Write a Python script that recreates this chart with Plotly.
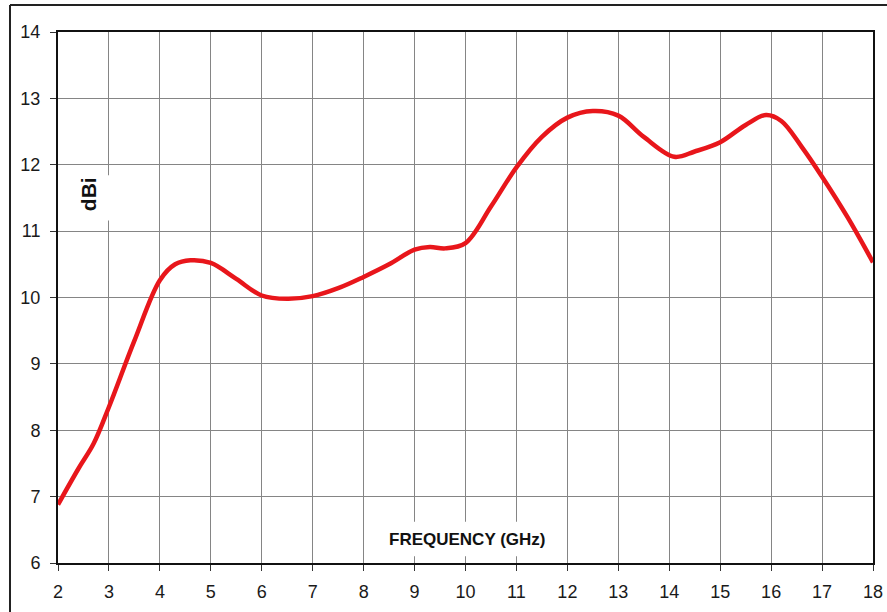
import plotly.graph_objects as go

# Frequency (GHz) and gain (dBi)
freq_ghz = [2.0, 2.4, 2.7, 3.0, 3.5, 4.0, 4.3, 4.6, 5.0, 5.5, 6.0, 6.5, 7.0, 7.5, 8.0, 8.5, 9.0, 9.3, 9.6, 10.0, 10.5, 11.0, 11.5, 12.0, 12.5, 13.0, 13.5, 14.1, 14.5, 15.0, 15.5, 15.9, 16.2, 16.6, 17.0, 17.5, 18.0]
gain_dbi = [6.88, 7.42, 7.8, 8.35, 9.35, 10.26, 10.5, 10.56, 10.52, 10.28, 10.03, 9.98, 10.02, 10.14, 10.31, 10.5, 10.72, 10.76, 10.74, 10.82, 11.37, 11.96, 12.42, 12.71, 12.81, 12.74, 12.42, 12.12, 12.2, 12.34, 12.6, 12.75, 12.66, 12.27, 11.82, 11.21, 10.53]

x_ticks = list(range(2, 19))
y_ticks = list(range(6, 15))

fig = go.Figure()
fig.add_trace(go.Scatter(
    x=freq_ghz, y=gain_dbi, mode="lines",
    line=dict(color="#e8161b", width=4.5, shape="spline", smoothing=1.0),
    hoverinfo="skip", showlegend=False,
))

axis_common = dict(
    showgrid=True, gridcolor="#858585", gridwidth=1,
    showline=True, linecolor="#111111", linewidth=2, mirror=True,
    ticks="outside", ticklen=6, tickcolor="#333333", tickwidth=1,
    tickfont=dict(family="Arial, Liberation Sans, sans-serif", size=18, color="#1a1a1a"),
    zeroline=False, fixedrange=True, automargin=False,
)

fig.update_xaxes(range=[2, 18], tickvals=x_ticks, ticktext=[str(v) for v in x_ticks],
                 ticklabelstandoff=5, **axis_common)
fig.update_yaxes(range=[6, 14], tickvals=y_ticks, ticktext=[str(v) for v in y_ticks],
                 ticklabelstandoff=6, **axis_common)

# white boxes hiding grid lines behind the axis titles
fig.add_shape(type="rect", xref="x", yref="y", x0=2.25, x1=3.12, y0=11.16, y1=11.84,
              fillcolor="white", line=dict(width=0), layer="between")
fig.add_shape(type="rect", xref="x", yref="y", x0=8.3, x1=11.75, y0=6.1, y1=6.62,
              fillcolor="white", line=dict(width=0), layer="between")

fig.add_annotation(x=2.6, y=11.55, xref="x", yref="y", text="<b>dBi</b>", textangle=-90,
                   showarrow=False, font=dict(family="Arial, Liberation Sans, sans-serif", size=21, color="#111111"))
fig.add_annotation(x=10.03, y=6.35, xref="x", yref="y", text="<b>FREQUENCY (GHz)</b>",
                   showarrow=False, font=dict(family="Arial, Liberation Sans, sans-serif", size=17, color="#111111"))

# outer frame (left and top edges visible)
fig.add_shape(type="line", xref="paper", yref="paper", x0=-0.0589, x1=-0.0589, y0=-0.2, y1=1.0508,
              line=dict(color="#222222", width=2), layer="above")
fig.add_shape(type="line", xref="paper", yref="paper", x0=-0.0589, x1=1.1, y0=1.0508, y1=1.0508,
              line=dict(color="#222222", width=2), layer="above")

fig.update_layout(
    width=887, height=612,
    margin=dict(l=58, r=14, t=32, b=49),
    paper_bgcolor="white", plot_bgcolor="white",
)

fig.write_html(
    "out.html",
    config={"displayModeBar": False, "staticPlot": True},
    post_script="document.body.style.margin='0px';document.body.style.overflow='hidden';",
)
